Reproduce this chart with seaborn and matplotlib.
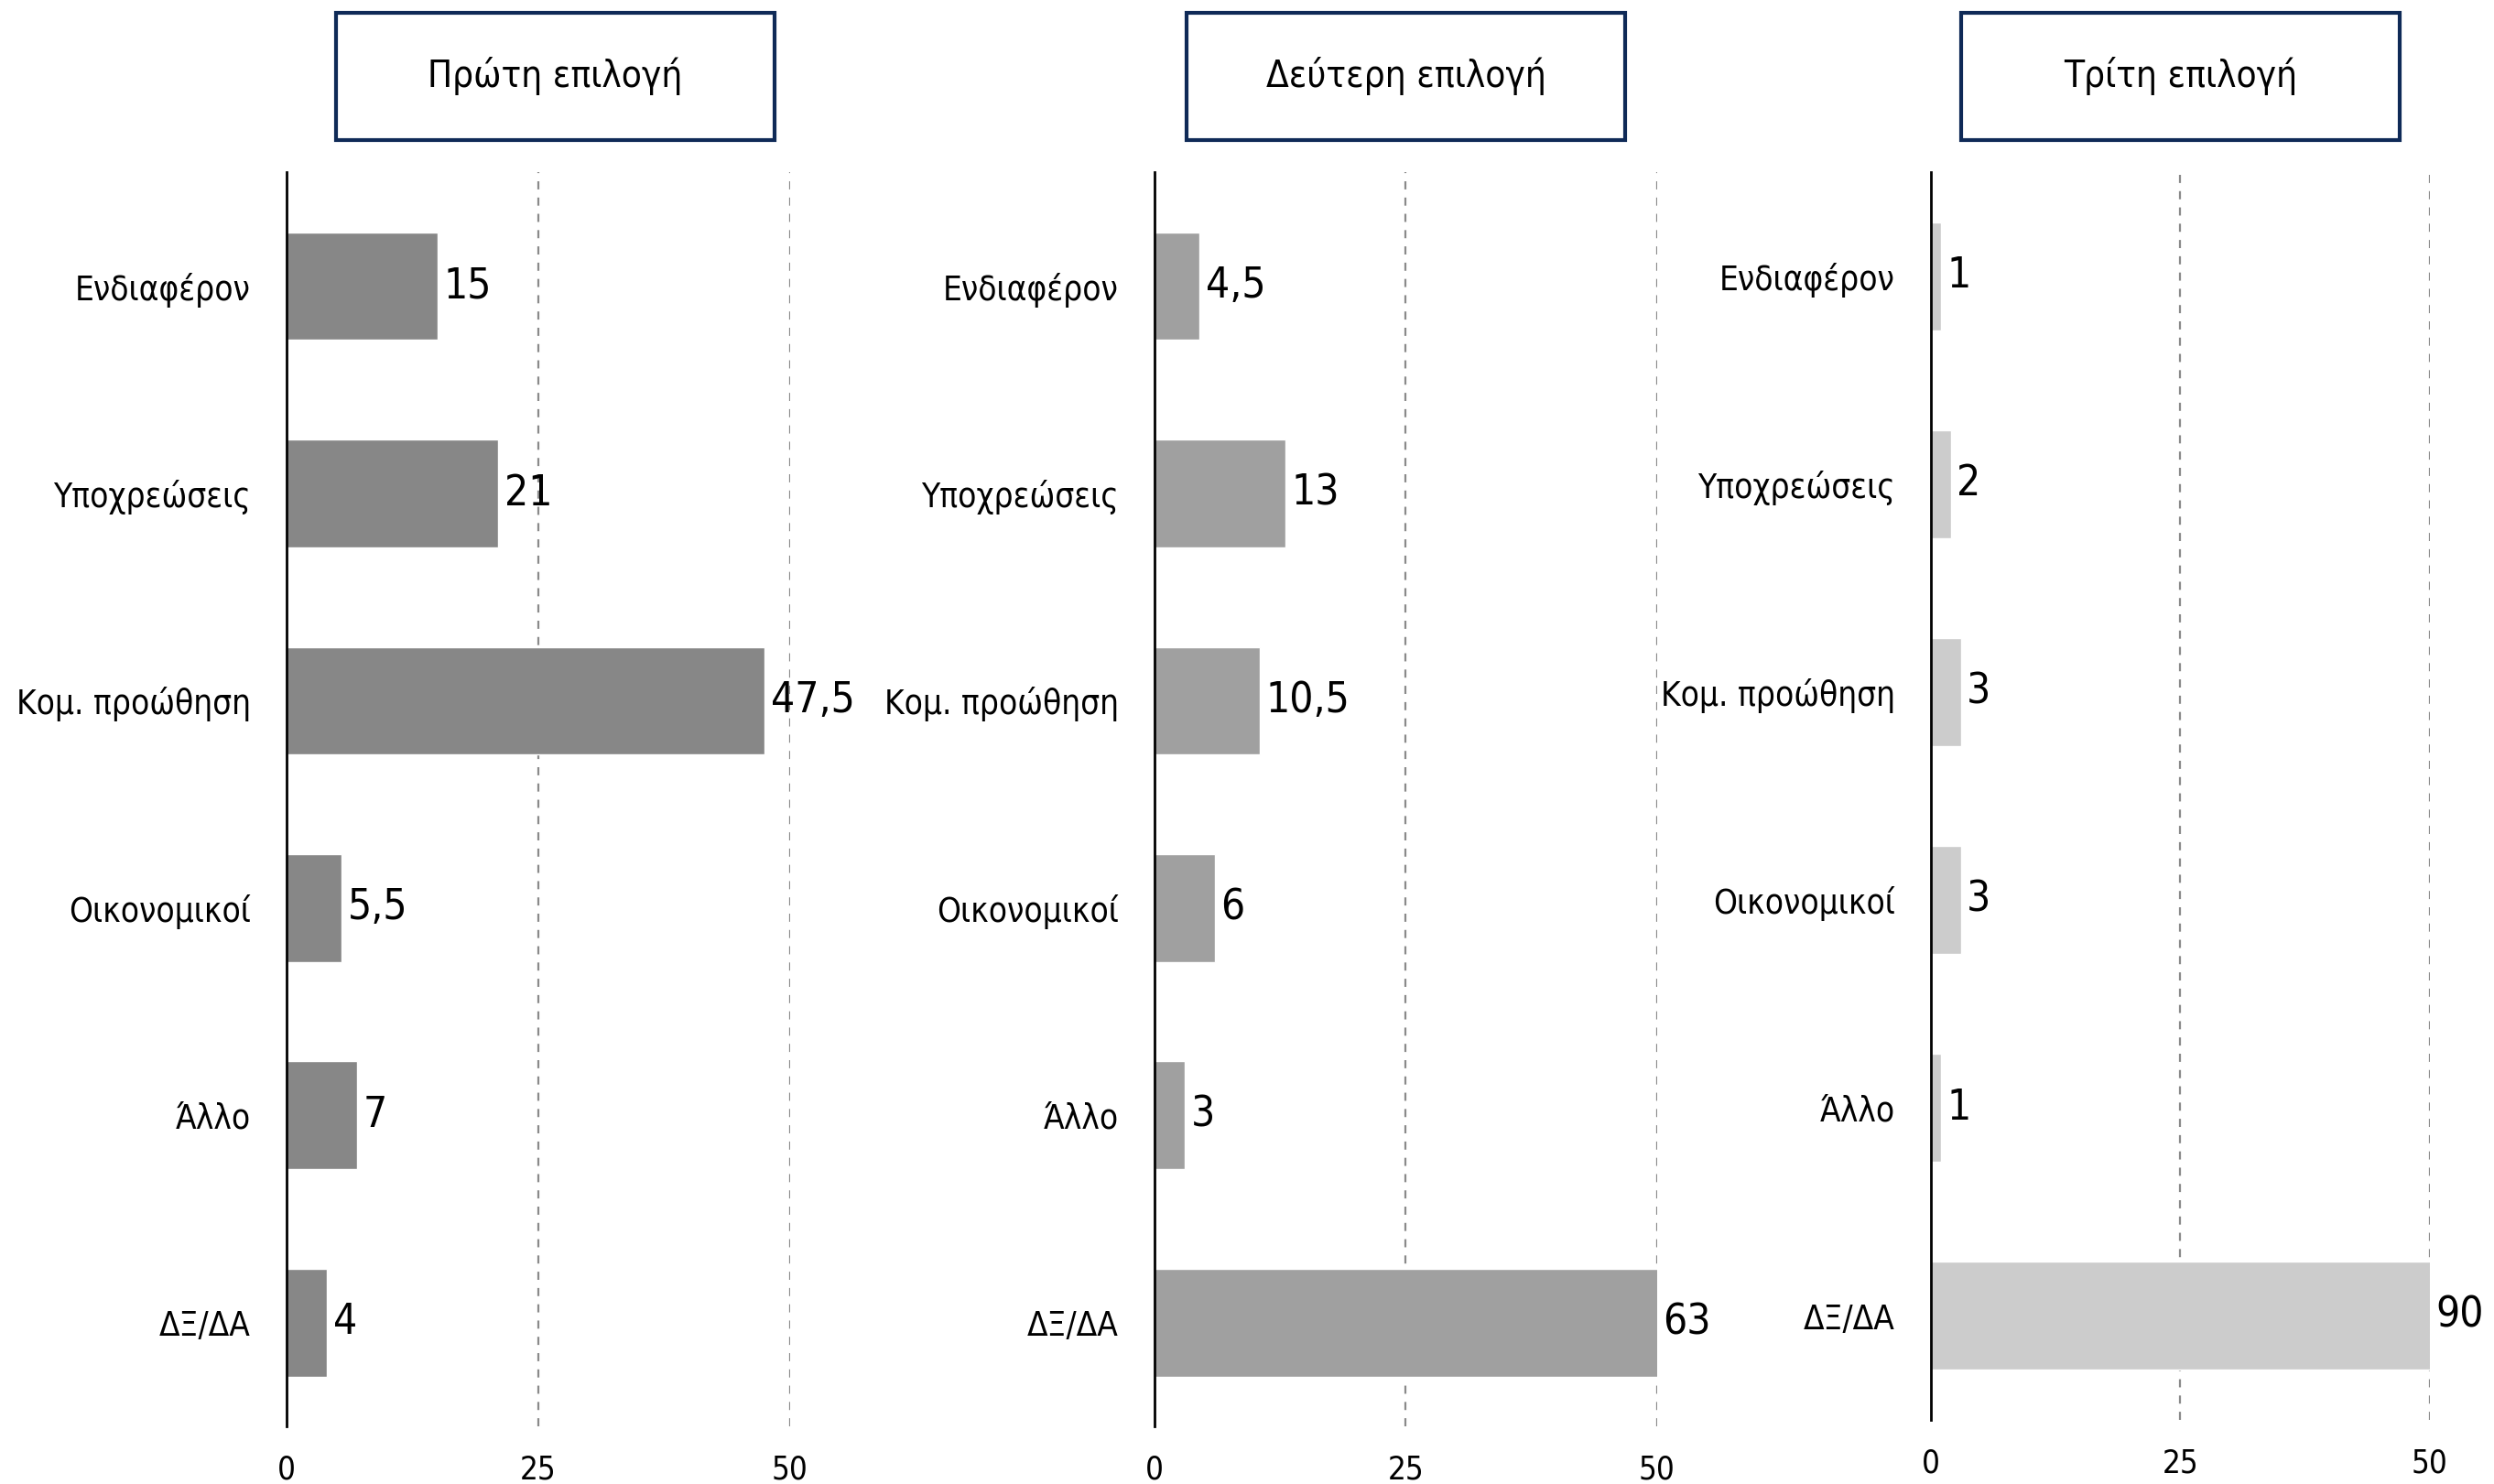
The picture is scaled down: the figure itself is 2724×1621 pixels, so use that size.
import numpy as np
import pandas as pd
import seaborn as sns
import matplotlib.pyplot as plt
from matplotlib.patches import Rectangle

# Data
categories = ["Ενδιαφέρον", "Υποχρεώσεις", "Κομ. προώθηση", "Οικονομικοί", "Άλλο", "ΔΞ/ΔΑ"]
first_choice = [15, 21, 47.5, 5.5, 7, 4]
second_choice = [4.5, 13, 10.5, 6, 3, 63]
third_choice = [1, 2, 3, 3, 1, 90]
panel_titles = ["Πρώτη επιλογή", "Δεύτερη επιλογή", "Τρίτη επιλογή"]
bar_colors = ["#878787", "#a0a0a0", "#cccccc"]
xticks = [0, 25, 50]

sns.set_theme(style="white")
plt.rcParams['font.family'] = ['DejaVu Sans']
plt.rcParams['font.stretch'] = 'condensed'

fig = plt.figure(figsize=(27.24, 16.21), dpi=100)

# axes positions [left, bottom, width, height] and title boxes
ax_pos = [[0.1149, 0.0389, 0.2019, 0.8451],
          [0.4629, 0.0389, 0.2015, 0.8451],
          [0.7742, 0.0432, 0.2001, 0.8408]]
ylims = [(5.5, -0.55), (5.5, -0.55), (5.5, -0.5)]
box_x = [0.1347, 0.4758, 0.7863]
box_w = 0.1759

series = [first_choice, second_choice, third_choice]

def fmt(v):
    s = ('%g' % v)
    return s.replace('.', ',')

for i, vals in enumerate(series):
    ax = fig.add_axes(ax_pos[i])
    df = pd.DataFrame({'cat': categories, 'val': vals})
    sns.barplot(data=df, x='val', y='cat', orient='h', color=bar_colors[i],
                saturation=1, width=0.52, ax=ax)
    ax.set_xlim(0, 50)
    ax.set_ylim(*ylims[i])
    ax.set_xticks(xticks)
    ax.set_xlabel('')
    ax.set_ylabel('')
    for x in [25, 50]:
        ax.axvline(x, color='#8a8a8a', linestyle=(0, (4, 4)), linewidth=1.6, zorder=0)
    for s in ['top', 'right', 'bottom']:
        ax.spines[s].set_visible(False)
    ax.spines['left'].set_color('black')
    ax.spines['left'].set_linewidth(2)
    ax.tick_params(axis='x', length=0, labelsize=25, colors='black', pad=22)
    ax.tick_params(axis='y', length=0, labelsize=26.5, colors='black', pad=28)
    for j, v in enumerate(vals):
        ax.text(min(v, 50) + 0.6, j, fmt(v), va='center', ha='left',
                fontsize=33, color='black', clip_on=False)

    # title box
    fig.add_artist(Rectangle((box_x[i], 0.9056), box_w, 0.0858, transform=fig.transFigure,
                             facecolor='white', edgecolor='#0f2a57', linewidth=3))
    fig.text(box_x[i] + box_w / 2, 0.9485, panel_titles[i], ha='center', va='center',
             fontsize=29, color='black')

fig.savefig('out.png', dpi=100)
